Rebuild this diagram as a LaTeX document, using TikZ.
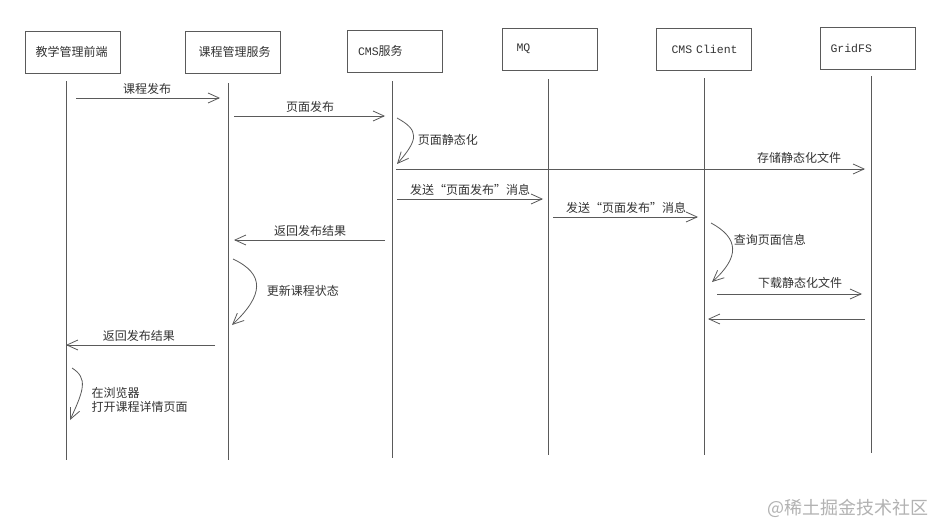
\documentclass[tikz,border=0pt]{standalone}
\usepackage{fontspec}
\setmainfont{Noto Sans CJK SC}
\newfontfamily\monofont{Liberation Mono}
\usepackage{xcolor}
\usetikzlibrary{arrows.meta}

\definecolor{linegray}{HTML}{5A5A5A}
\definecolor{textgray}{HTML}{333333}

\tikzset{
  actor/.style={draw=linegray, line width=0.8pt, minimum height=42pt, text width=74pt,
    inner xsep=10.5pt, align=left, text=textgray, font=\fontsize{12}{14}\selectfont},
  life/.style={draw=linegray, line width=0.8pt},
  msg/.style={draw=linegray, line width=0.8pt, -{Straight Barb[length=11pt,width=10pt]}},
  note/.style={text=textgray, font=\fontsize{12}{14}\selectfont, inner sep=1pt},
}

\begin{document}
\begin{tikzpicture}[x=1pt,y=-1pt]
\fill[white] (0,0) rectangle (935,524);
\useasboundingbox (0,0) rectangle (935,524);

% participants
\node[actor] (fe)  at (72.5,52)  {教学管理前端};
\node[actor] (cs)  at (232.5,52) {\hspace*{3pt}课程管理服务};
\node[actor] (cms) at (395,51)   {\raisebox{-5pt}{{\monofont\fontsize{11.5}{13}\selectfont CMS}服务}};
\node[actor] (mq)  at (549.5,49) {\raisebox{-3pt}{\hspace*{4pt}\monofont\fontsize{11.5}{13}\selectfont MQ}};
\node[actor] (cli) at (703.5,49) {\hspace*{5pt}\monofont\fontsize{11.5}{13}\selectfont CMS Client};
\node[actor] (gfs) at (867.5,48) {\monofont\fontsize{11.5}{13}\selectfont GridFS};

% lifelines
\coordinate (feL)  at ([xshift=-6.5pt]fe.south);
\coordinate (csL)  at ([xshift=-4.5pt]cs.south);
\coordinate (cmsL) at ([xshift=-3pt]cms.south);
\coordinate (mqL)  at ([xshift=-1.5pt]mq.south);
\coordinate (cliL) at ([xshift=0.5pt]cli.south);
\coordinate (gfsL) at ([xshift=3.5pt]gfs.south);
\draw[life] ([yshift=-8pt]feL)   -- (feL |- 0,460);
\draw[life] ([yshift=-10pt]csL)  -- (csL |- 0,460);
\draw[life] ([yshift=-9pt]cmsL)  -- (cmsL |- 0,458);
\draw[life] ([yshift=-9pt]mqL)   -- (mqL |- 0,455);
\draw[life] ([yshift=-8pt]cliL)  -- (cliL |- 0,455);
\draw[life] ([yshift=-7pt]gfsL)  -- (gfsL |- 0,453);

% messages
\draw[msg, shorten <=10pt, shorten >=8pt] (feL |- 0,98) -- node[note, above=2pt] {课程发布} (csL |- 0,98);
\draw[msg, shorten <=6pt, shorten >=7pt] (csL |- 0,116) -- node[note, above=2pt] {页面发布} (cmsL |- 0,116);
\draw[msg] (cmsL |- 0,118) ++(5,0) .. controls +(22,12) and +(22,-25) .. node[note, anchor=west, xshift=3pt, yshift=-4pt] {页面静态化} ++(0,46);
\draw[msg, shorten <=4pt, shorten >=6pt] (cmsL |- 0,169) -- node[note, above=4pt, pos=0.85] {存储静态化文件} (gfsL |- 0,169);
\draw[msg, shorten <=5pt, shorten >=5pt] (cmsL |- 0,199) -- node[note, above=2pt] {发送“页面发布”消息} (mqL |- 0,199);
\draw[msg, shorten <=5pt, shorten >=6pt] (mqL |- 0,217) -- node[note, above=2pt] {发送“页面发布”消息} (cliL |- 0,217);
\draw[msg] (cliL |- 0,223) ++(7,0) .. controls +(28,15) and +(28,-25) .. node[note, anchor=west, yshift=9pt] {查询页面信息} ++(1,59);
\draw[msg, shorten <=7pt, shorten >=6pt] (cmsL |- 0,240) -- node[note, above=2pt] {返回发布结果} (csL |- 0,240);
\draw[msg] (csL |- 0,259) ++(5,0) .. controls +(32,15) and +(32,-30) .. node[note, anchor=west, xshift=9pt, yshift=-5pt] {更新课程状态} ++(-1,66);
\draw[msg, shorten <=13pt, shorten >=0pt] (csL |- 0,345) -- node[note, above=2pt, pos=0.55] {返回发布结果} (feL |- 0,345);
\draw[msg] (feL |- 0,368) ++(6,0) .. controls +(16,10) and +(14,-30) .. node[note, anchor=west, align=left, xshift=8pt, yshift=-13pt] {在浏览器\\打开课程详情页面} ++(-2,52);
\draw[msg, shorten <=13pt, shorten >=9pt] (cliL |- 0,294) -- node[note, above=4pt, pos=0.575] {下载静态化文件} (gfsL |- 0,294);
\draw[msg, shorten <=6pt, shorten >=4pt] (gfsL |- 0,319) -- (cliL |- 0,319);

% watermark
\node[text=gray!60, font=\fontsize{18}{20}\selectfont, anchor=east, inner sep=0pt] (mark) at (929,508) {@稀土掘金技术社区};
\end{tikzpicture}
\end{document}
